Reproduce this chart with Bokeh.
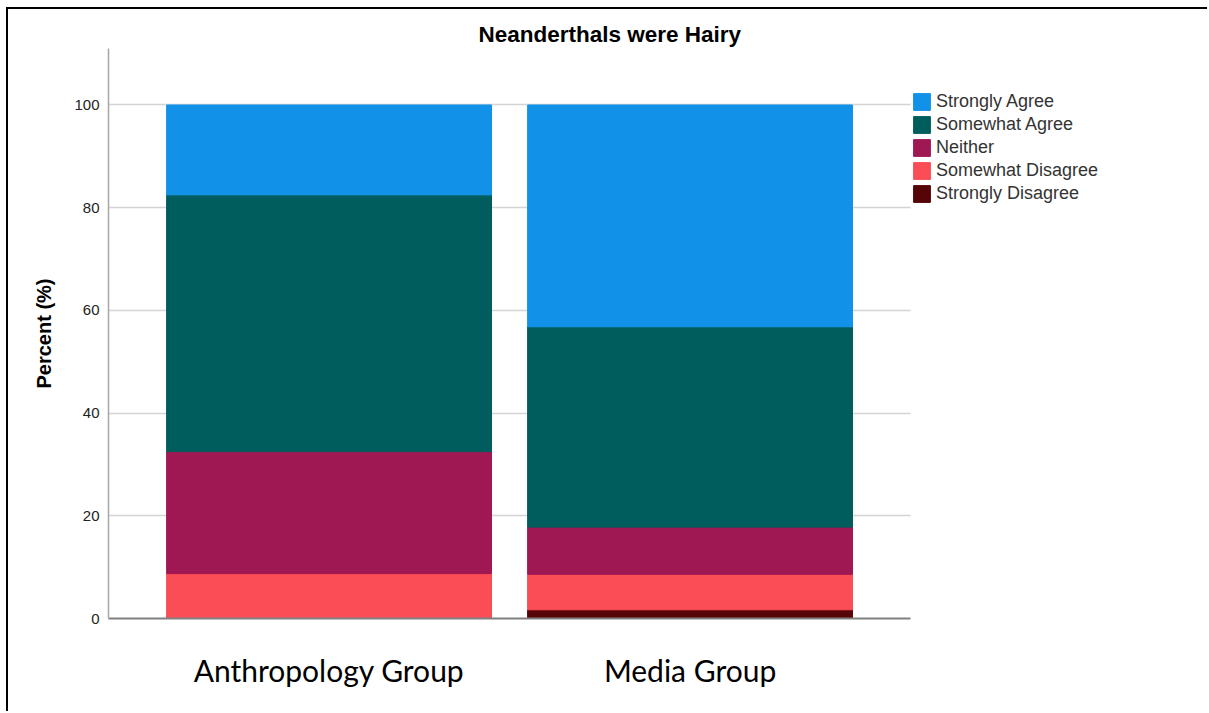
from bokeh.plotting import figure
from bokeh.models import (Range1d, FixedTicker, Legend, LegendItem,
                          ColumnDataSource, BoxAnnotation)
from bokeh.embed import file_html
from bokeh.resources import INLINE

# ---- data ----
categories = ["Anthropology Group", "Media Group"]
responses = ["Strongly Disagree", "Somewhat Disagree", "Neither", "Somewhat Agree", "Strongly Agree"]
strongly_disagree = [0.0, 1.7]
somewhat_disagree = [8.75, 6.9]
neither = [23.75, 9.2]
somewhat_agree = [50.0, 39.0]
strongly_agree = [17.5, 43.2]
colors = ["#570408", "#fa4d56", "#9f1853", "#005d5d", "#1192e8"]
y_ticks = [0, 20, 40, 60, 80, 100]

keys = ["sd", "swd", "nei", "swa", "sa"]
x_pos = [i + 1 for i in range(len(categories))]
source = ColumnDataSource(dict(
    x=x_pos, sd=strongly_disagree, swd=somewhat_disagree, nei=neither,
    swa=somewhat_agree, sa=strongly_agree,
))

# layout (pixels / axis extents)
W, H = 1201, 704
LEFT, TOP, BOTTOM = 100, 39, 95
UNIT_PX = 361.0                      # pixels per category step
x_lo, x_hi = 0.389, 2.611            # extent of the plotted axis
x_end = x_lo + (W - LEFT) / UNIT_PX  # frame continues under the legend

p = figure(width=W, height=H,
           x_range=Range1d(x_lo, x_end), y_range=Range1d(0, 111),
           output_backend="svg", toolbar_location=None,
           min_border_left=LEFT, min_border_right=0,
           min_border_top=TOP, min_border_bottom=BOTTOM)
p.styles = {"border-left": "2px solid black", "border-top": "2px solid black",
            "margin-left": "6px", "margin-top": "7px"}

# white area right of the plotted axis (hides grid lines under the legend)
p.add_layout(BoxAnnotation(left=x_hi, fill_color="white", fill_alpha=1.0,
                           line_color=None, level="underlay"))

renderers = p.vbar_stack(keys, x="x", width=0.9, color=colors, source=source)

items = [LegendItem(label=lab, renderers=[r])
         for lab, r in zip(reversed(responses), reversed(renderers))]
legend = Legend(items=items, location=(803, 414), margin=0, padding=0, spacing=2,
                glyph_width=21, glyph_height=21, label_height=20, label_standoff=4,
                label_text_font="Liberation Sans", label_text_font_size="18px",
                label_text_color="#333333", border_line_color=None,
                background_fill_alpha=0)
p.add_layout(legend)

# title
p.title.text = "Neanderthals were Hairy"
p.title.text_font = "Liberation Sans"
p.title.text_font_style = "bold"
p.title.text_font_size = "22.5px"
p.title.text_color = "#000000"
p.title.align = "left"
p.title.offset = 370
p.title.standoff = 4

# y axis
p.yaxis.ticker = FixedTicker(ticks=y_ticks)
p.yaxis.axis_label = "Percent (%)"
p.yaxis.axis_label_text_font = "Liberation Sans"
p.yaxis.axis_label_text_font_style = "bold"
p.yaxis.axis_label_text_font_size = "20px"
p.yaxis.axis_label_text_color = "#000000"
p.yaxis.axis_label_standoff = 16
p.yaxis.major_label_text_font = "Liberation Sans"
p.yaxis.major_label_text_font_size = "15px"
p.yaxis.major_label_text_color = "#222222"
p.yaxis.major_label_standoff = 3
p.yaxis.major_tick_line_color = None
p.yaxis.minor_tick_line_color = None
p.yaxis.axis_line_color = "#a6a6a6"
p.yaxis.axis_line_width = 1.5

# x axis
p.xaxis.ticker = FixedTicker(ticks=x_pos)
p.xaxis.bounds = (x_lo, x_hi)
p.xaxis.major_label_overrides = {x: c for x, c in zip(x_pos, categories)}
p.xaxis.major_label_text_font = "Lato"
p.xaxis.major_label_text_font_size = "30px"
p.xaxis.major_label_text_color = "#000000"
p.xaxis.major_label_standoff = 27
p.xaxis.major_tick_line_color = None
p.xaxis.minor_tick_line_color = None
p.xaxis.axis_line_color = "#808080"
p.xaxis.axis_line_width = 2

# grid
p.xgrid.grid_line_color = None
p.ygrid.ticker = FixedTicker(ticks=y_ticks)
p.ygrid.grid_line_color = "#d4d4d4"
p.ygrid.grid_line_width = 1.5
p.outline_line_color = None

open("out.html", "w").write(file_html(p, INLINE))
